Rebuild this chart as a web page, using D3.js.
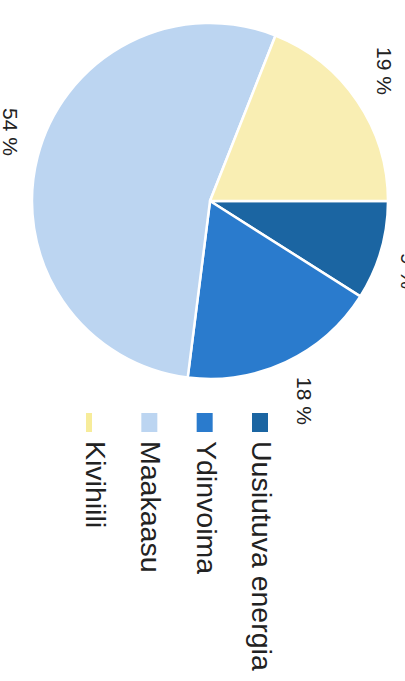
<!DOCTYPE html>
<html><head><meta charset="utf-8">
<script src="https://cdn.jsdelivr.net/npm/d3@7"></script>
<style>html,body{margin:0;padding:0;background:#fff;overflow:hidden}</style>
</head><body>
<script>
const categories = ["Uusiutuva energia", "Ydinvoima", "Maakaasu", "Kivihiili"];
const values = [9, 18, 54, 19];
const labels = ["9 %", "18 %", "54 %", "19 %"];
const colors = ["#1b65a2", "#2a7bcd", "#bcd5f1", "#f9eeb3"];

const W = 405, H = 681;
const svg = d3.select("body").append("svg").attr("width", W).attr("height", H)
  .style("font-family", "'Liberation Sans', Arial, sans-serif");

const cx = 210, cy = 201, R = 178;
const pie = d3.pie().sort(null).startAngle(Math.PI / 2).endAngle(Math.PI * 2.5);
const arcs = pie(values);
const arc = d3.arc().innerRadius(0).outerRadius(R);

const g = svg.append("g").attr("transform", `translate(${cx},${cy})`);
g.selectAll("path").data(arcs).join("path")
  .attr("d", arc)
  .attr("fill", (d, i) => colors[i])
  .attr("stroke", "#fff").attr("stroke-width", 2.5).attr("stroke-linejoin", "round");

// percentage labels (rotated 90deg like the scan)
const labelPos = [[401, 253], [297, 377], [3, 108], [377, 47]];
svg.selectAll("text.pct").data(labels).join("text").attr("class", "pct")
  .attr("transform", (d, i) => `translate(${labelPos[i][0]},${labelPos[i][1]}) rotate(90)`)
  .attr("font-size", 21).attr("fill", "#222").text(d => d);

// legend
const legendX = d3.scaleLinear().domain([0, 3]).range([252, 86]);
const lg = svg.append("g");
categories.forEach((c, i) => {
  const x = legendX(i);
  lg.append("rect").attr("x", x).attr("y", 413)
    .attr("width", i === 3 ? 6 : 16).attr("height", 19)
    .attr("fill", i === 3 ? "#f7ec9a" : colors[i]);
  lg.append("text")
    .attr("transform", `translate(${x},441) rotate(90)`)
    .attr("font-size", 28.5).attr("fill", "#222").text(c);
});
</script>
</body></html>
